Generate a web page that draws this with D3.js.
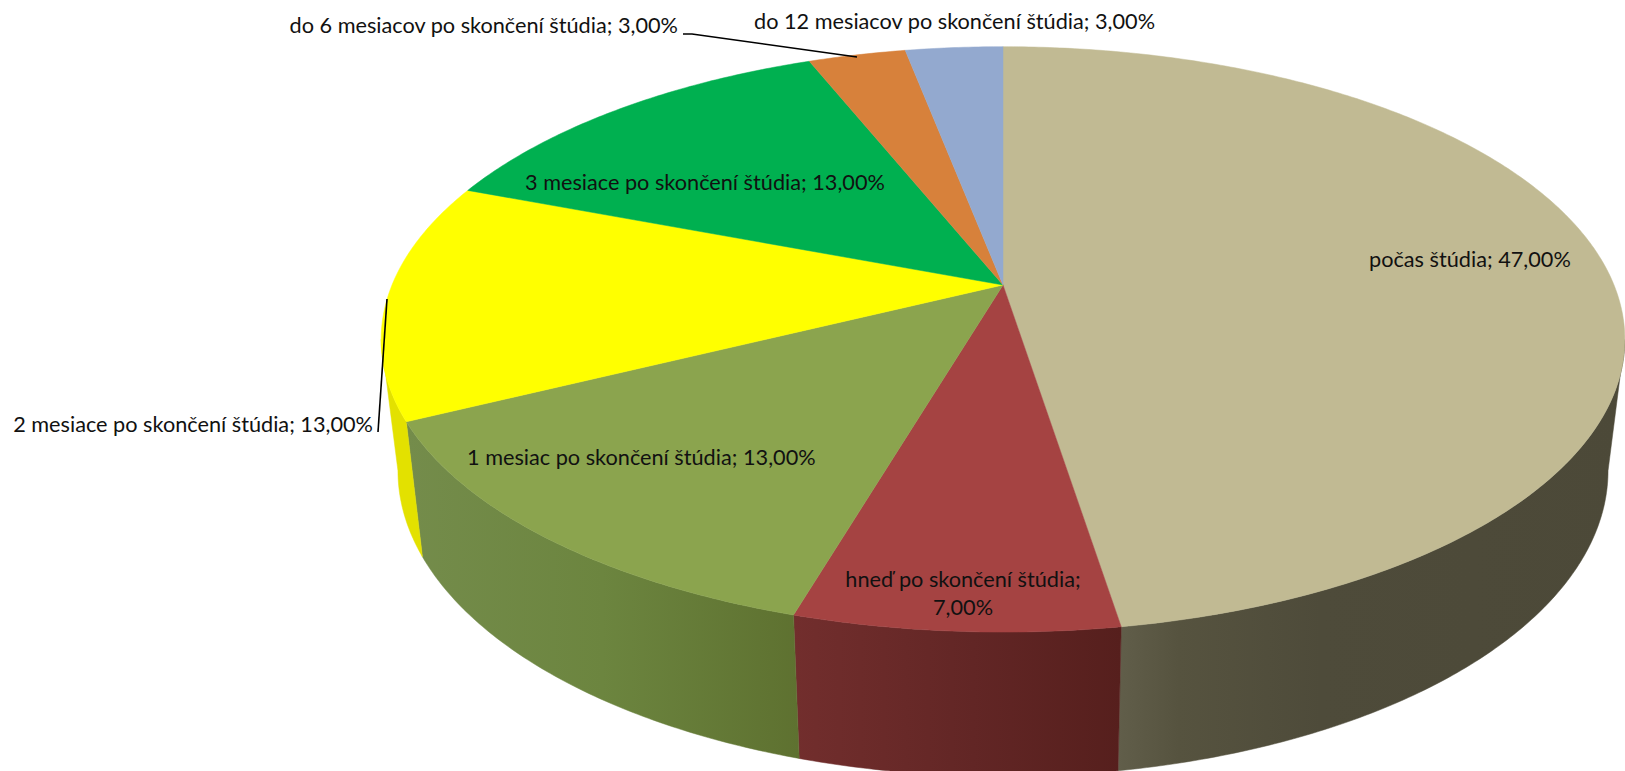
<!DOCTYPE html>
<html>
<head>
<meta charset="utf-8">
<script src="https://cdn.jsdelivr.net/npm/d3@7"></script>
<style>
    body { margin: 0; background: #fff; overflow: hidden; }
    text { font-family: Lato, "Open Sans", sans-serif; font-size: 21.7px; fill: #111; }
</style>
</head>
<body>
<script>
// values add up to 99 in the source, the pie normalises them
const categories = [
    "počas štúdia",
    "hneď po skončení štúdia",
    "1 mesiac po skončení štúdia",
    "2 mesiace po skončení štúdia",
    "3 mesiace po skončení štúdia",
    "do 6 mesiacov po skončení štúdia",
    "do 12 mesiacov po skončení štúdia"
];
const values = [47, 7, 13, 13, 13, 3, 3];

const topColors = ["#c1ba93", "#a54342", "#8ba44e", "#ffff00", "#00b050", "#d7813b", "#93a9cf"];

// wall shading, only the slices that face the viewer
const wallStops = [
    [[0, "#615e4a"], [0.12, "#56533f"], [0.4, "#4e4b3a"], [1, "#4c4938"]],
    [[0, "#722e2d"], [0.55, "#622625"], [1, "#561f1d"]],
    [[0, "#748c4b"], [0.5, "#6c853f"], [1, "#5e7130"]],
    [[0, "#e3e100"], [1, "#e3e100"]]
];

// perspective of the top and bottom disc
const width = 1625, height = 771;
const cx = 1003, persp = 0.1858;
const topDisc = {cy: 285, a: 282.6, b: 611};
const botDisc = {cy: 414, a: 295, b: 594.5};
const widest = Math.PI - Math.acos(persp); // angle where the disc is widest on the right

function project(disc, angle) {
    const u = Math.sin(angle), v = -Math.cos(angle);
    const w = 1 - persp * v;
    return {x: cx + disc.b * u / w, y: disc.cy + disc.a * v / w};
}

function arcPoints(disc, a0, a1) {
    const n = Math.max(2, Math.ceil(Math.abs(a1 - a0) / 0.01));
    return d3.range(n + 1).map(i => project(disc, a0 + (a1 - a0) * i / n));
}

const lineFn = d3.line().x(d => d.x).y(d => d.y);

const slices = d3.pie().sort(null).value(d => d).startAngle(0).endAngle(2 * Math.PI)(values);

const svg = d3.select("body").append("svg")
    .attr("width", width)
    .attr("height", height);

const defs = svg.append("defs");
wallStops.forEach((stops, i) => {
    const grad = defs.append("linearGradient").attr("id", "wall" + i)
        .attr("x1", "0%").attr("x2", "100%").attr("y1", "0%").attr("y2", "0%");
    stops.forEach(s => grad.append("stop").attr("offset", s[0]).attr("stop-color", s[1]));
});

// walls, they do not overlap so the order does not matter
const walls = wallStops.map((_, i) => {
    const d = slices[i];
    return {
        i: i,
        a0: Math.max(d.startAngle, widest),
        a1: Math.min(d.endAngle, 2 * Math.PI - widest)
    };
});

svg.append("g").selectAll("path")
    .data(walls)
    .enter()
    .append("path")
    .attr("d", d => lineFn(arcPoints(topDisc, d.a0, d.a1).concat(arcPoints(botDisc, d.a1, d.a0))) + "Z")
    .attr("fill", d => "url(#wall" + d.i + ")")
    .attr("stroke", d => "url(#wall" + d.i + ")")
    .attr("stroke-width", 0.5);

// top face
svg.append("g").selectAll("path")
    .data(slices)
    .enter()
    .append("path")
    .attr("d", d => lineFn([{x: cx, y: topDisc.cy}].concat(arcPoints(topDisc, d.startAngle, d.endAngle))) + "Z")
    .attr("fill", (d, i) => topColors[i])
    .attr("stroke", (d, i) => topColors[i])
    .attr("stroke-width", 0.5);

// leader lines
const leaders = [
    [[683, 34], [692, 34], [857, 57]],
    [[378, 432], [387, 299]]
];
svg.append("g").selectAll("path")
    .data(leaders)
    .enter()
    .append("path")
    .attr("d", d3.line())
    .attr("fill", "none")
    .attr("stroke", "#000")
    .attr("stroke-width", 1.6);

// labels
const fmt = v => d3.format(".2f")(v).replace(".", ",") + "%";
const labelPos = [
    {x: 1369, y: 267, anchor: "start"},
    {x: 963, y: 587, anchor: "middle", wrap: true},
    {x: 467, y: 465, anchor: "start"},
    {x: 373, y: 432, anchor: "end"},
    {x: 525, y: 190, anchor: "start"},
    {x: 678, y: 33, anchor: "end"},
    {x: 754, y: 29, anchor: "start"}
];

const label = svg.append("g").selectAll("text")
    .data(categories)
    .enter()
    .append("text")
    .attr("x", (d, i) => labelPos[i].x)
    .attr("y", (d, i) => labelPos[i].y)
    .attr("text-anchor", (d, i) => labelPos[i].anchor)
    .text((d, i) => labelPos[i].wrap ? null : d + "; " + fmt(values[i]));

label.filter((d, i) => labelPos[i].wrap).each(function (d) {
    const i = categories.indexOf(d);
    d3.select(this).append("tspan").attr("x", labelPos[i].x).text(d + ";");
    d3.select(this).append("tspan").attr("x", labelPos[i].x).attr("dy", 28).text(fmt(values[i]));
});
</script>
</body>
</html>
